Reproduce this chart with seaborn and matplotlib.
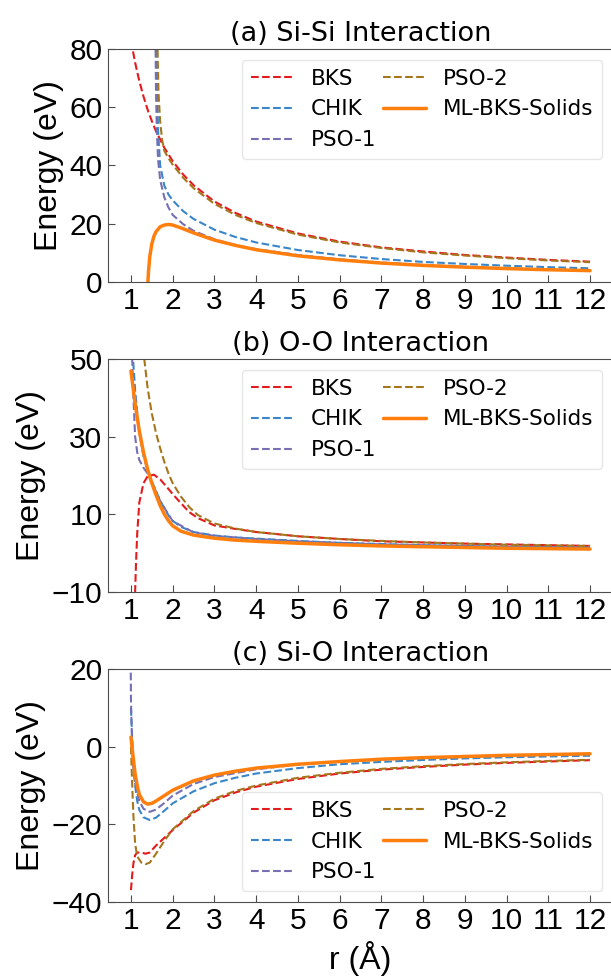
import numpy as np
import pandas as pd
import seaborn as sns
import matplotlib.pyplot as plt

# ---- (a) Si-Si, values ----
sisi_bks_r = [1.0, 1.04, 1.1, 1.2, 1.3, 1.4, 1.5, 1.6, 1.8, 2.0, 2.25, 2.5, 3.0, 3.5, 4.0, 5.0, 6.0, 7.0, 8.0, 9.0, 10.0, 11.0, 12.0]
sisi_bks_e = [83.0, 80.0, 75.4, 69.1, 63.8, 59.2, 55.3, 51.8, 46.1, 41.5, 36.9, 33.2, 27.6, 23.7, 20.7, 16.6, 13.8, 11.8, 10.4, 9.2, 8.3, 7.5, 6.9]

sisi_chik_r = [1.60, 1.62, 1.65, 1.7, 1.8, 1.9, 2.0, 2.25, 2.5, 3.0, 3.5, 4.0, 5.0, 6.0, 7.0, 8.0, 9.0, 10.0, 11.0, 12.0]
sisi_chik_e = [95.0, 75.0, 52.0, 40.0, 33.0, 30.0, 28.0, 24.3, 21.6, 17.9, 15.4, 13.5, 10.9, 9.1, 7.8, 6.8, 6.1, 5.5, 5.0, 4.6]

sisi_pso1_r = [1.57, 1.59, 1.60, 1.62, 1.65, 1.7, 1.8, 1.9, 2.0, 2.25, 2.5, 3.0, 3.5, 4.0, 5.0, 6.0, 7.0, 8.0, 9.0, 10.0, 11.0, 12.0]
sisi_pso1_e = [95.0, 80.0, 66.0, 52.0, 42.0, 35.0, 29.0, 25.5, 23.0, 19.8, 17.5, 14.6, 12.6, 11.2, 9.2, 7.7, 6.6, 5.8, 5.1, 4.6, 4.2, 3.8]

sisi_pso2_r = [1.62, 1.64, 1.66, 1.7, 1.75, 1.8, 1.9, 2.0, 2.25, 2.5, 3.0, 3.5, 4.0, 5.0, 6.0, 7.0, 8.0, 9.0, 10.0, 11.0, 12.0]
sisi_pso2_e = [95.0, 78.0, 65.0, 55.0, 48.5, 45.0, 42.5, 40.3, 35.8, 32.2, 26.8, 23.0, 20.2, 16.2, 13.5, 11.6, 10.1, 9.0, 8.1, 7.3, 6.7]

sisi_ml_r = [1.40, 1.42, 1.45, 1.5, 1.55, 1.6, 1.7, 1.8, 1.9, 2.0, 2.2, 2.5, 3.0, 3.5, 4.0, 5.0, 6.0, 7.0, 8.0, 9.0, 10.0, 11.0, 12.0]
sisi_ml_e = [-2.0, 3.5, 8.5, 13.0, 15.6, 17.2, 18.9, 19.5, 19.7, 19.5, 18.5, 16.8, 14.3, 12.5, 11.0, 8.9, 7.5, 6.4, 5.6, 5.0, 4.5, 4.1, 3.8]

# ---- (b) O-O ----
oo_bks_r = [1.09, 1.10, 1.12, 1.15, 1.2, 1.3, 1.4, 1.55, 1.7, 1.9, 2.0, 2.2, 2.4, 2.6, 3.0, 3.5, 4.0, 5.0, 6.0, 7.0, 8.0, 9.0, 10.0, 11.0, 12.0]
oo_bks_e = [-16.0, -10.0, -3.0, 5.0, 13.0, 18.0, 19.8, 20.2, 19.0, 16.5, 15.2, 12.8, 10.5, 9.0, 7.1, 6.2, 5.4, 4.3, 3.6, 3.0, 2.7, 2.4, 2.2, 2.0, 1.8]

oo_chik_r = [1.04, 1.05, 1.1, 1.2, 1.3, 1.4, 1.5, 1.6, 1.7, 1.8, 1.9, 2.0, 2.2, 2.5, 3.0, 3.5, 4.0, 5.0, 6.0, 7.0, 8.0, 9.0, 10.0, 11.0, 12.0]
oo_chik_e = [55.0, 50.0, 42.0, 31.0, 25.0, 21.5, 18.5, 16.0, 13.5, 11.5, 9.7, 8.3, 6.7, 5.4, 4.5, 4.0, 3.7, 3.1, 2.6, 2.3, 2.0, 1.8, 1.6, 1.5, 1.4]

oo_pso1_r = [1.02, 1.03, 1.06, 1.1, 1.15, 1.2, 1.3, 1.4, 1.5, 1.7, 2.0, 2.5, 3.0, 4.0, 5.0, 6.0, 7.0, 8.0, 9.0, 10.0, 11.0, 12.0]
oo_pso1_e = [56.0, 50.0, 40.0, 30.0, 26.0, 24.0, 22.0, 20.5, 18.3, 13.4, 8.2, 5.3, 4.4, 3.6, 3.0, 2.6, 2.2, 2.0, 1.8, 1.6, 1.5, 1.4]

oo_pso2_r = [1.30, 1.32, 1.4, 1.5, 1.6, 1.7, 1.8, 1.9, 2.0, 2.2, 2.4, 2.6, 3.0, 3.5, 4.0, 5.0, 6.0, 7.0, 8.0, 9.0, 10.0, 11.0, 12.0]
oo_pso2_e = [53.0, 50.0, 42.5, 36.0, 31.0, 27.0, 23.5, 20.5, 18.0, 14.5, 11.8, 9.8, 7.6, 6.3, 5.4, 4.3, 3.6, 3.1, 2.7, 2.4, 2.1, 1.95, 1.8]

oo_ml_r = [1.0, 1.1, 1.2, 1.3, 1.4, 1.5, 1.6, 1.7, 1.8, 1.9, 2.0, 2.2, 2.5, 3.0, 3.5, 4.0, 5.0, 6.0, 7.0, 8.0, 9.0, 10.0, 11.0, 12.0]
oo_ml_e = [47.0, 38.5, 31.5, 26.0, 21.5, 18.0, 15.0, 12.2, 10.0, 8.3, 7.0, 5.6, 4.6, 3.8, 3.3, 3.0, 2.5, 2.1, 1.8, 1.6, 1.4, 1.2, 1.1, 1.0]

# ---- (c) Si-O ----
sio_bks_r = [1.0, 1.03, 1.06, 1.1, 1.15, 1.25, 1.35, 1.45, 1.6, 1.8, 2.0, 2.5, 3.0, 3.5, 4.0, 5.0, 6.0, 7.0, 8.0, 9.0, 10.0, 11.0, 12.0]
sio_bks_e = [-37.0, -33.0, -30.0, -28.0, -27.3, -27.3, -27.6, -27.3, -25.5, -23.5, -21.5, -17.0, -13.8, -11.8, -10.3, -8.3, -6.9, -5.9, -5.2, -4.6, -4.15, -3.8, -3.45]

sio_chik_r = [1.0, 1.03, 1.06, 1.1, 1.15, 1.2, 1.3, 1.45, 1.6, 1.8, 2.0, 2.5, 3.0, 3.5, 4.0, 5.0, 6.0, 7.0, 8.0, 9.0, 10.0, 11.0, 12.0]
sio_chik_e = [10.0, 2.0, -5.0, -10.0, -14.0, -16.3, -18.2, -18.9, -18.3, -16.5, -14.6, -11.5, -9.4, -8.0, -6.9, -5.5, -4.5, -3.9, -3.4, -3.0, -2.7, -2.5, -2.3]

sio_pso1_r = [0.995, 1.0, 1.02, 1.05, 1.1, 1.2, 1.3, 1.45, 1.6, 1.8, 2.0, 2.5, 3.0, 4.0, 5.0, 6.0, 7.0, 8.0, 9.0, 10.0, 11.0, 12.0]
sio_pso1_e = [22.0, 12.0, 4.0, -4.0, -9.5, -14.0, -16.0, -16.8, -16.2, -14.5, -12.6, -9.6, -7.8, -5.8, -4.6, -3.8, -3.3, -2.9, -2.6, -2.3, -2.1, -1.9]

sio_pso2_r = [1.0, 1.03, 1.06, 1.1, 1.15, 1.25, 1.35, 1.45, 1.6, 1.8, 2.0, 2.5, 3.0, 3.5, 4.0, 5.0, 6.0, 7.0, 8.0, 9.0, 10.0, 11.0, 12.0]
sio_pso2_e = [0.0, -10.0, -18.0, -25.0, -28.3, -29.9, -30.3, -29.9, -27.6, -24.3, -21.3, -16.6, -13.4, -11.4, -10.0, -8.0, -6.7, -5.7, -5.0, -4.45, -4.0, -3.65, -3.35]

sio_ml_r = [1.0, 1.05, 1.1, 1.15, 1.2, 1.3, 1.4, 1.5, 1.6, 1.8, 2.0, 2.5, 3.0, 3.5, 4.0, 5.0, 6.0, 7.0, 8.0, 9.0, 10.0, 11.0, 12.0]
sio_ml_e = [2.5, -2.5, -7.0, -10.0, -12.3, -14.2, -14.8, -14.6, -14.0, -12.6, -11.2, -8.8, -7.3, -6.3, -5.5, -4.5, -3.8, -3.2, -2.8, -2.5, -2.2, -2.0, -1.8]

labels = ["BKS", "CHIK", "PSO-1", "PSO-2", "ML-BKS-Solids"]
colors = ["#e41a1c", "#3a86c8", "#7570b3", "#a6761d", "#ff7f0e"]
titles = ["(a) Si-Si Interaction", "(b) O-O Interaction", "(c) Si-O Interaction"]
xticks = list(range(1, 13))
yticks = [[0, 20, 40, 60, 80], [-10, 10, 30, 50], [-40, -20, 0, 20]]
ylims = [(0, 80), (-10, 50), (-40, 20)]

panels = [
    [(sisi_bks_r, sisi_bks_e), (sisi_chik_r, sisi_chik_e), (sisi_pso1_r, sisi_pso1_e),
     (sisi_pso2_r, sisi_pso2_e), (sisi_ml_r, sisi_ml_e)],
    [(oo_bks_r, oo_bks_e), (oo_chik_r, oo_chik_e), (oo_pso1_r, oo_pso1_e),
     (oo_pso2_r, oo_pso2_e), (oo_ml_r, oo_ml_e)],
    [(sio_bks_r, sio_bks_e), (sio_chik_r, sio_chik_e), (sio_pso1_r, sio_pso1_e),
     (sio_pso2_r, sio_pso2_e), (sio_ml_r, sio_ml_e)],
]

sns.set_style("ticks")
plt.rcParams['font.family'] = ['DejaVu Sans']
plt.rcParams['text.color'] = 'black'
plt.rcParams['axes.labelcolor'] = 'black'
plt.rcParams['xtick.color'] = 'black'
plt.rcParams['ytick.color'] = 'black'

fig = plt.figure(figsize=(6.11, 9.76), dpi=100)
bottoms = [0.7114, 0.3938, 0.0761]
axes = [fig.add_axes([108 / 611, b, 505 / 611, 0.2381]) for b in bottoms]

tick_font = {'family': 'Liberation Sans', 'size': 21.5}
for i, ax in enumerate(axes):
    for j, (r, e) in enumerate(panels[i]):
        ml = j == 4
        sns.lineplot(x=r, y=e, ax=ax, color=colors[j], label=labels[j],
                     linestyle='-' if ml else '--', linewidth=2.5 if ml else 1.5)
    ax.set_xlim(0.45, 12.55)
    ax.set_ylim(*ylims[i])
    ax.set_xticks(xticks)
    ax.set_yticks(yticks[i])
    ax.set_xticklabels([str(t) for t in xticks], fontdict=tick_font)
    ax.set_yticklabels([f"{t}".replace('-', '\u2212') for t in yticks[i]], fontdict=tick_font)
    ax.tick_params(direction='in', length=5, color='0.3', pad=4)
    for s in ax.spines.values():
        s.set_color('0.3')
    ax.set_title(titles[i], fontsize=19.5, pad=6)
    ax.set_ylabel("Energy (eV)", family='Liberation Sans', fontsize=23)
    ax.legend(loc='lower right' if i == 2 else 'upper right', ncol=2, fontsize=15.5,
              columnspacing=0.3, handletextpad=0.8, framealpha=1, edgecolor='0.9')
axes[2].set_xlabel("r (Å)", family='Liberation Sans', fontsize=23)
fig.align_ylabels(axes)

fig.savefig("out.png", dpi=100)
